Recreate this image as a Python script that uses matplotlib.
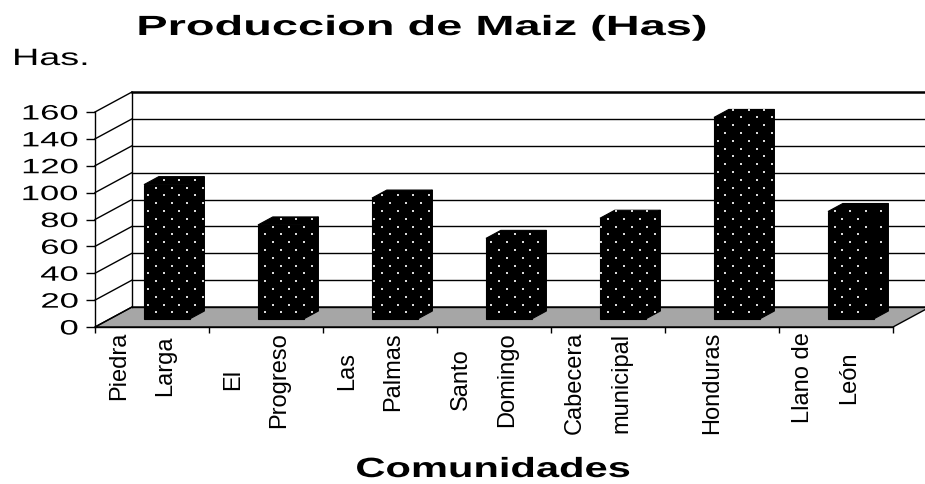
import numpy as np
import matplotlib
matplotlib.use('Agg')
import matplotlib.pyplot as plt
from matplotlib import patheffects
from matplotlib.patches import Polygon
from matplotlib.path import Path
from matplotlib.transforms import Affine2D, ScaledTranslation

# datos
comunidades = ["Piedra\nLarga", "El\nProgreso", "Las\nPalmas", "Santo\nDomingo",
               "Cabecera\nmunicipal", "Honduras", "Llano de\nLeón"]
hectareas = [100, 70, 90, 60, 75, 150, 80]
marcas_y = [0, 20, 40, 60, 80, 100, 120, 140, 160]

plt.rcParams['font.family'] = ['Liberation Sans', 'DejaVu Sans']


# estira el texto a lo largo de su linea base (como en el grafico original)
class Estirar(patheffects.AbstractPathEffect):
    def __init__(self, texto, sx):
        super().__init__()
        self.texto = texto
        self.sx = sx

    def draw_path(self, renderer, gc, tpath, affine, rgbFace=None):
        x0, y0 = self.texto.get_transform().transform(self.texto.get_unitless_position())
        ang = self.texto.get_rotation()
        t = (Affine2D().translate(-x0, -y0).rotate_deg(-ang)
             .scale(self.sx, 1).rotate_deg(ang).translate(x0, y0))
        renderer.draw_path(gc, tpath, affine + t, rgbFace)


def estirar(t, sx):
    t.set_path_effects([Estirar(t, sx)])
    return t


fig = plt.figure(figsize=(9.25, 4.84), dpi=100)
ax = fig.add_axes([95 / 925, 157 / 484, 798 / 925, 215 / 484])
n = len(hectareas)
ax.set_xlim(-0.5, n - 0.5)
ax.set_ylim(marcas_y[0], marcas_y[-1])
ax.patch.set_visible(False)

# vector de profundidad (en pixeles -> datos)
prof_px = np.array([0.37, 0.20]) * fig.dpi
p0 = ax.transData.transform((0, 0))
ddx, ddy = ax.transData.inverted().transform(p0 + prof_px)


def P(x, y, d):
    return (x + d * ddx, y + d * ddy)


xa, xb = -0.5, n - 0.5
ytop = marcas_y[-1]

# suelo
ax.add_patch(Polygon([P(xa, 0, 0), P(xb, 0, 0), P(xb, 0, 1), P(xa, 0, 1)],
                     closed=True, fc='#a6a6a6', ec='black', lw=1, clip_on=False, zorder=1))

# pared del fondo y pared lateral
for v in marcas_y:
    lw = 1.8 if v == ytop else 1.0
    (x1, y1), (x2, y2) = P(xa, v, 1), P(xb, v, 1)
    ax.plot([x1, x2], [y1, y2], color='black', lw=lw, clip_on=False, zorder=1.5)
    (x1, y1), (x2, y2) = P(xa, v, 0), P(xa, v, 1)
    ax.plot([x1, x2], [y1, y2], color='black', lw=1.0, clip_on=False, zorder=1.5)
(x1, y1), (x2, y2) = P(xa, 0, 1), P(xa, ytop, 1)
ax.plot([x1, x2], [y1, y2], color='black', lw=1.0, clip_on=False, zorder=1.5)

# trama de puntos (rejilla en pixeles, escalonada)
paso = 15.6
filas = []
for r in range(int(fig.bbox.height / (paso / 2)) + 1):
    xs = np.arange(0, fig.bbox.width, paso) + (r % 2) * paso / 2
    filas.append(np.column_stack([xs, np.full_like(xs, r * paso / 2)]))
trama = ax.transData.inverted().transform(np.vstack(filas))

# barras 3D
ancho = 0.40
f1, f2 = 0.4, 0.8
for i, v in enumerate(hectareas):
    a, b = i - ancho / 2, i + ancho / 2
    caras = [
        [P(b, 0, f1), P(b, 0, f2), P(b, v, f2), P(b, v, f1)],
        [P(a, v, f1), P(b, v, f1), P(b, v, f2), P(a, v, f2)],
        [P(a, 0, f1), P(b, 0, f1), P(b, v, f1), P(a, v, f1)],
    ]
    for c in caras:
        ax.add_patch(Polygon(c, closed=True, fc='black', ec='black', lw=0.8,
                             clip_on=False, zorder=3))
        dentro = trama[Path(c).contains_points(trama, radius=-0.01)]
        ax.scatter(dentro[:, 0], dentro[:, 1], s=2.2, marker='s', c='#d9d9d9',
                   linewidths=0, clip_on=False, zorder=3.2)

# ejes
for s in ['top', 'right']:
    ax.spines[s].set_visible(False)
for s in ['left', 'bottom']:
    ax.spines[s].set_linewidth(1.0)
    ax.spines[s].set_zorder(2)
ax.set_yticks(marcas_y)
ax.tick_params(axis='y', length=6.5, width=1, pad=5, labelsize=15)
ax.set_xticks(np.arange(-0.5, n, 1))
ax.set_xticklabels([])
ax.tick_params(axis='x', length=4.5, width=1)
for tk in ax.yaxis.get_major_ticks():
    estirar(tk.label1, 1.66)

desp = ax.transData + ScaledTranslation(-0.10, -0.05, fig.dpi_scale_trans)
for i, lab in enumerate(comunidades):
    ax.text(i, 0, lab, rotation=90, ha='center', va='top', multialignment='center',
            linespacing=2.45, fontsize=17, transform=desp)

estirar(fig.text(422 / 925, 1 - 35 / 484, "Produccion de Maiz (Has)", fontsize=20,
                 fontweight='bold', ha='center', va='baseline'), 1.69)
estirar(fig.text(12 / 925, 1 - 65 / 484, "Has.", fontsize=17, ha='left', va='baseline'), 1.6)
estirar(fig.text(493 / 925, 1 - 477 / 484, "Comunidades", fontsize=20, fontweight='bold',
                 ha='center', va='baseline'), 1.5)

fig.savefig('out.png', dpi=100)
